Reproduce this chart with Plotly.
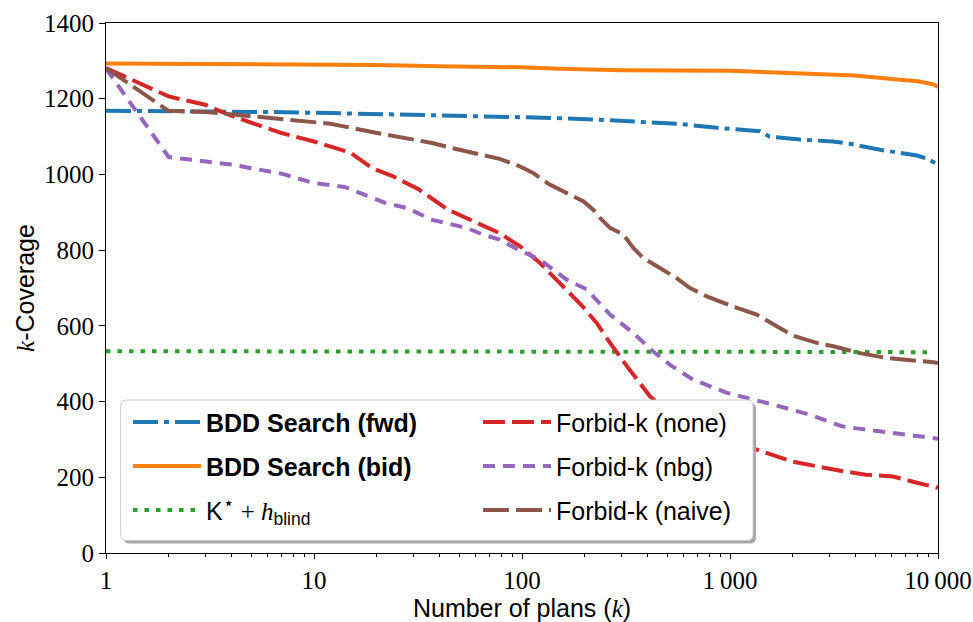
import plotly.graph_objects as go

# ---------------- data ----------------
k_fwd = [1, 3, 6, 12, 30, 72, 126, 205, 342, 556, 866, 1393, 1550, 2172, 3128, 3775, 5260, 7930, 9000, 10000]
cov_fwd = [1168, 1167, 1165, 1162, 1158, 1153, 1150, 1146, 1140, 1134, 1123, 1114, 1100, 1092, 1087, 1081, 1065, 1050, 1040, 1026]

k_bid = [1, 5, 10, 20, 40, 100, 150, 300, 1000, 1500, 2500, 4000, 6000, 8000, 9500, 10000]
cov_bid = [1293, 1292, 1291, 1289, 1286, 1283, 1279, 1275, 1274, 1270, 1266, 1261, 1252, 1246, 1238, 1231]

k_kstar = [1, 10, 100, 1000, 5000, 9000]
cov_kstar = [533, 533, 533, 532, 531, 530]

k_none = [1, 2, 3, 4, 7, 10, 15, 19, 24, 32, 44, 61, 78, 98, 122, 152, 196, 229, 265, 320,
          412, 500, 700, 1000, 1276, 2009, 2800, 3491, 4500, 6080, 7500, 9680, 10000]
cov_none = [1281, 1206, 1184, 1155, 1109, 1087, 1057, 1017, 995, 960, 907, 872, 845, 810, 766, 713, 651, 607, 555, 493,
            414, 375, 330, 298, 277, 241, 225, 216, 207, 202, 189, 176, 172]

k_nbg = [1, 2, 4, 7, 10, 14, 22, 28, 37, 54, 65, 78, 96, 122, 164, 205, 265, 343, 426, 515,
         664, 968, 1611, 2427, 3491, 6080, 9680, 10000]
cov_nbg = [1280, 1046, 1026, 1002, 977, 967, 925, 911, 880, 859, 841, 828, 801, 775, 722, 696, 630, 581, 533, 497,
           458, 423, 392, 365, 334, 317, 304, 302]

k_naive = [1, 2, 3, 5, 7, 10, 12, 19, 26, 37, 45, 54, 78, 98, 113, 136, 164, 197, 220, 237,
           265, 307, 343, 383, 460, 554, 642, 773, 1038, 1344, 1677, 2015, 2610, 3140, 4217, 5665, 9500, 10000]
cov_naive = [1281, 1168, 1165, 1153, 1147, 1136, 1134, 1112, 1098, 1083, 1071, 1061, 1041, 1021, 1004, 973, 951, 929, 907, 885,
             859, 841, 806, 779, 753, 726, 700, 678, 651, 630, 599, 574, 555, 546, 528, 515, 504, 502]

x_tickvals = [1, 10, 100, 1000, 10000]
x_ticktext = ["1", "10", "100", "1\u2009000", "10\u2009000"]
y_tickvals = [0, 200, 400, 600, 800, 1000, 1200, 1400]

SERIF = "Liberation Serif"
SANS = "Liberation Sans"

W, H = 973, 622
ML, MR, MT, MB = 106, 35, 23, 69
PW, PH = W - ML - MR, H - MT - MB


def px(xpix):
    return (xpix - ML) / PW


def py(ypix):
    return (H - MB - ypix) / PH


fig = go.Figure()

series = [
    (k_fwd, cov_fwd, "<b>BDD Search (fwd)</b>", "#1f77b4", "25px,6px,5px,6px", "legend", 1),
    (k_bid, cov_bid, "<b>BDD Search (bid)</b>", "#ff7f0e", "solid", "legend", 2),
    (k_kstar, cov_kstar,
     "K<sup>\u22c6</sup> <span style=\"font-family:'Liberation Serif'\">+ <i>h</i></span><sub>blind</sub>",
     "#2ca02c", "4.5px,7px", "legend", 3),
    (k_none, cov_none, "Forbid-k (none)", "#d62728", "22px,7px", "legend2", 1),
    (k_nbg, cov_nbg, "Forbid-k (nbg)", "#9467bd", "12px,8px", "legend2", 2),
    (k_naive, cov_naive, "Forbid-k (naive)", "#8c564b", "26px,7px", "legend2", 3),
]

for i, (xs, ys, name, color, dash, leg, rank) in enumerate(series):
    fig.add_trace(go.Scatter(
        x=xs, y=ys, mode="lines", name=name,
        line=dict(color=color, width=4, dash=dash),
        legend=leg, legendrank=rank, legendgroup=f"g{i}",
        hoverinfo="skip",
    ))


# legend frame (rounded box with shadow) drawn behind the legend text
def rounded_path(x0, y0, x1, y1, r):
    rx, ry = r / PW, r / PH
    X0, X1 = px(x0), px(x1)
    Y0, Y1 = py(y0), py(y1)  # Y0 top (higher), Y1 bottom
    return (f"M{X0 + rx},{Y0} L{X1 - rx},{Y0} Q{X1},{Y0} {X1},{Y0 - ry} "
            f"L{X1},{Y1 + ry} Q{X1},{Y1} {X1 - rx},{Y1} "
            f"L{X0 + rx},{Y1} Q{X0},{Y1} {X0},{Y1 + ry} "
            f"L{X0},{Y0 - ry} Q{X0},{Y0} {X0 + rx},{Y0} Z")


box = (120.7, 400, 753, 540.5)
shapes = [
    dict(type="path", xref="paper", yref="paper", layer="above",
         path=rounded_path(box[0] + 3, box[1] + 3, box[2] + 3, box[3] + 3, 6),
         fillcolor="#a8a8a8", line=dict(width=0)),
    dict(type="path", xref="paper", yref="paper", layer="above",
         path=rounded_path(*box, 6),
         fillcolor="white", line=dict(color="#cccccc", width=1)),
]

legend_common = dict(
    yanchor="top", xanchor="left", y=py(399.3),
    bgcolor="rgba(0,0,0,0)", borderwidth=0,
    font=dict(family=SANS, size=25, color="black"),
    traceorder="grouped", tracegroupgap=8.5, itemwidth=68,
)

fig.update_layout(
    width=W, height=H,
    margin=dict(l=ML, r=MR, t=MT, b=MB, autoexpand=False),
    paper_bgcolor="white", plot_bgcolor="white",
    showlegend=True,
    legend=dict(x=px(128), **legend_common),
    legend2=dict(x=px(478), **legend_common),
    shapes=shapes,
    xaxis=dict(
        type="log", range=[0, 4],
        tickmode="array", tickvals=x_tickvals, ticktext=x_ticktext,
        ticks="outside", ticklen=5, tickwidth=1, tickcolor="black",
        minor=dict(ticks="outside", ticklen=3, tickwidth=1, tickcolor="black",
                   tickvals=[m * d for d in (1, 10, 100, 1000) for m in range(2, 10)],
                   showgrid=False),
        showline=True, linecolor="black", linewidth=1, mirror=True,
        showgrid=False, zeroline=False,
        tickfont=dict(family=SERIF, size=25, color="black"),
        title=dict(text="Number of plans (<i><span style=\"font-family:'Liberation Serif'\">k</span></i>)",
                   font=dict(family=SANS, size=25, color="black"), standoff=6),
    ),
    yaxis=dict(
        range=[0, 1400], tickmode="array", tickvals=y_tickvals,
        ticks="outside", ticklen=6, tickwidth=1, tickcolor="black",
        showline=True, linecolor="black", linewidth=1, mirror=True,
        showgrid=False, zeroline=False,
        tickfont=dict(family=SERIF, size=25, color="black"),
        title=dict(text="<i><span style=\"font-family:'Liberation Serif'\">k</span></i>-Coverage",
                   font=dict(family=SANS, size=25, color="black"), standoff=2),
    ),
)

# remove the default 8px page margin so the 973x622 figure fills the window exactly
fig.write_html("out.html",
               config={"displayModeBar": False},
               post_script="document.body.style.margin='0px';document.body.style.overflow='hidden';")
